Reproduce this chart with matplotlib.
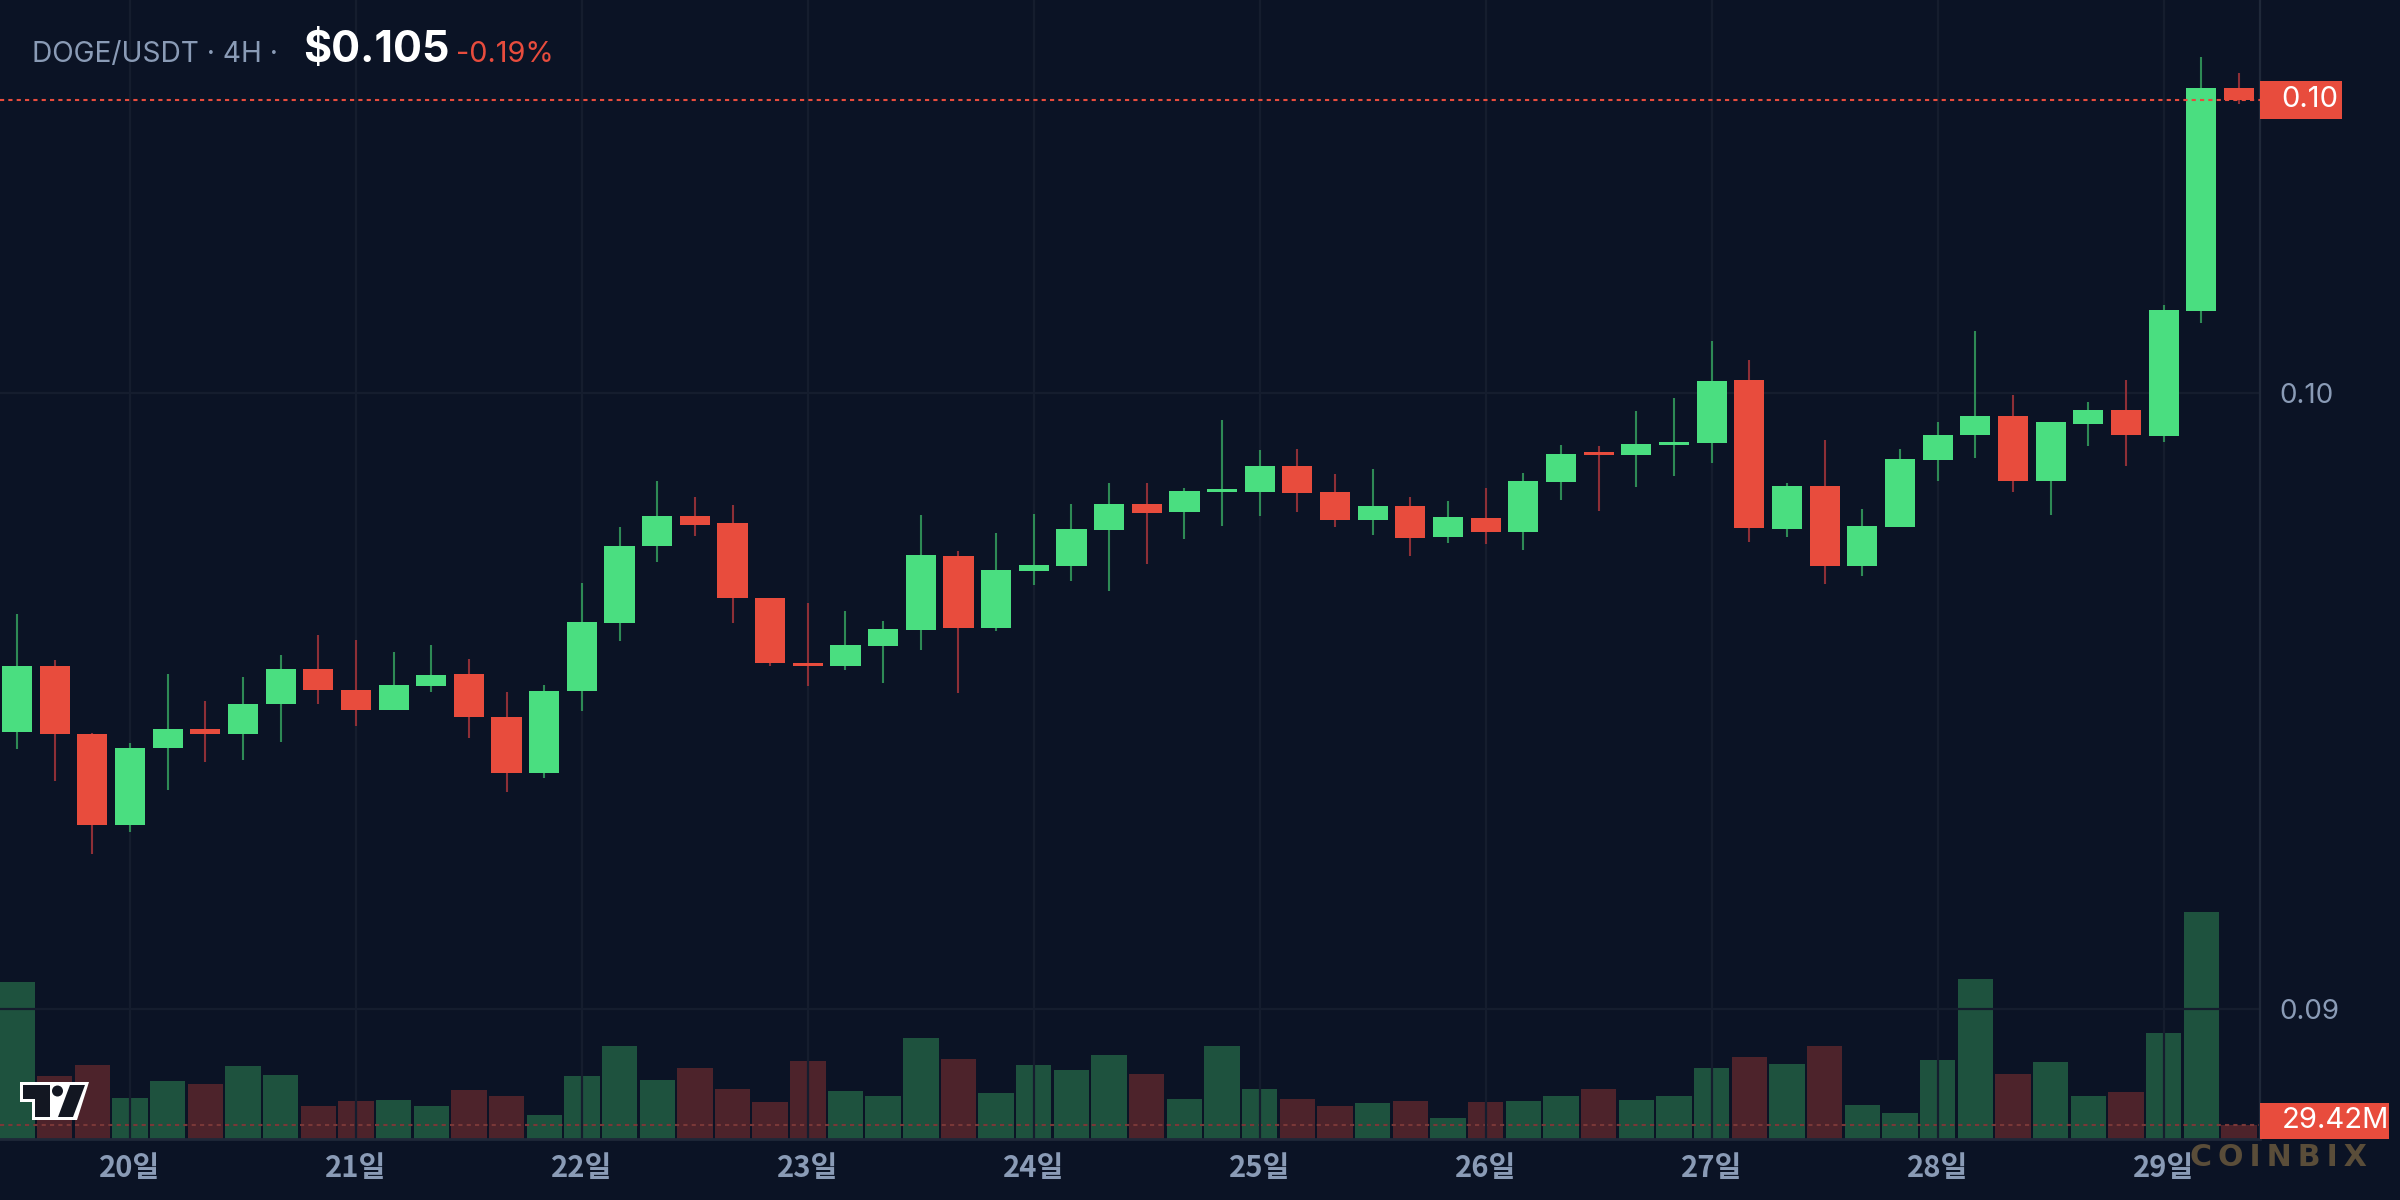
import matplotlib
matplotlib.use('Agg')
import matplotlib.pyplot as plt
import numpy as np
from matplotlib.patches import Rectangle, Polygon, Circle

# ---------------- data (DOGE/USDT, 4H candles) ----------------
opens = [0.09450, 0.09557, 0.09446, 0.09299, 0.09424, 0.09455, 0.09446, 0.09495, 0.09552, 0.09518,
         0.09485, 0.09524, 0.09544, 0.09474, 0.09383, 0.09516, 0.09627, 0.09752, 0.09800, 0.09789,
         0.09667, 0.09562, 0.09557, 0.09589, 0.09615, 0.09735, 0.09619, 0.09711, 0.09719, 0.09778,
         0.09820, 0.09807, 0.09839, 0.09839, 0.09882, 0.09839, 0.09794, 0.09817, 0.09766, 0.09797,
         0.09774, 0.09856, 0.09903, 0.09899, 0.09916, 0.09919, 0.10021, 0.09779, 0.09849, 0.09719,
         0.09782, 0.09891, 0.09932, 0.09963, 0.09857, 0.09950, 0.09972, 0.09930, 0.10133, 0.10495]
highs = [0.09641, 0.09567, 0.09448, 0.09432, 0.09544, 0.09500, 0.09539, 0.09575, 0.09607, 0.09599,
         0.09580, 0.09591, 0.09568, 0.09515, 0.09526, 0.09692, 0.09783, 0.09857, 0.09831, 0.09818,
         0.09667, 0.09659, 0.09646, 0.09630, 0.09802, 0.09744, 0.09773, 0.09804, 0.09820, 0.09854,
         0.09854, 0.09846, 0.09956, 0.09907, 0.09909, 0.09868, 0.09877, 0.09831, 0.09825, 0.09846,
         0.09870, 0.09916, 0.09914, 0.09971, 0.09992, 0.10084, 0.10054, 0.09854, 0.09924, 0.09812,
         0.09909, 0.09953, 0.10101, 0.09997, 0.09953, 0.09985, 0.10021, 0.10143, 0.10545, 0.10519]
lows = [0.09422, 0.09370, 0.09252, 0.09287, 0.09356, 0.09401, 0.09404, 0.09433, 0.09495, 0.09459,
        0.09485, 0.09515, 0.09440, 0.09352, 0.09375, 0.09484, 0.09597, 0.09726, 0.09768, 0.09627,
        0.09557, 0.09524, 0.09550, 0.09529, 0.09583, 0.09513, 0.09614, 0.09688, 0.09695, 0.09679,
        0.09722, 0.09763, 0.09784, 0.09800, 0.09807, 0.09782, 0.09770, 0.09735, 0.09756, 0.09755,
        0.09745, 0.09826, 0.09808, 0.09847, 0.09865, 0.09886, 0.09758, 0.09766, 0.09690, 0.09703,
        0.09782, 0.09857, 0.09894, 0.09839, 0.09802, 0.09914, 0.09881, 0.09920, 0.10114, 0.10469]
closes = [0.09557, 0.09446, 0.09299, 0.09424, 0.09455, 0.09446, 0.09495, 0.09552, 0.09518, 0.09485,
          0.09526, 0.09542, 0.09474, 0.09383, 0.09516, 0.09628, 0.09752, 0.09800, 0.09786, 0.09667,
          0.09562, 0.09557, 0.09591, 0.09617, 0.09737, 0.09619, 0.09713, 0.09721, 0.09779, 0.09820,
          0.09805, 0.09841, 0.09843, 0.09882, 0.09838, 0.09794, 0.09817, 0.09765, 0.09799, 0.09774,
          0.09857, 0.09901, 0.09899, 0.09917, 0.09920, 0.10019, 0.09781, 0.09849, 0.09719, 0.09784,
          0.09893, 0.09932, 0.09963, 0.09857, 0.09953, 0.09972, 0.09932, 0.10135, 0.10495, 0.10476]
volumes_m = [330, 132, 156, 86, 122, 116, 153, 134, 69, 80,
             82, 69, 103, 90, 50, 132, 195, 124, 149, 105,
             78, 164, 101, 90, 212, 168, 97, 156, 145, 177,
             137, 84, 195, 105, 84, 69, 76, 80, 44, 78,
             80, 90, 105, 82, 90, 149, 172, 158, 195, 71,
             55, 166, 336, 137, 162, 90, 99, 223, 477, 29.42]
day_tick_idx = [3, 9, 15, 21, 27, 33, 39, 45, 51, 57]
day_labels = ['20일', '21일', '22일', '23일', '24일', '25일', '26일', '27일', '28일', '29일']
price_ticks = [0.09, 0.10]
price_tick_labels = ['0.09', '0.10']
title_pair = 'DOGE/USDT · 4H ·'
title_price = '$0.105'
title_change = '-0.19%'
watermark = 'COINBIX'

# ---------------- style ----------------
BG = '#0b1325'
GRID = '#151d2e'
SPINE = '#1f2839'
TXT = '#8a9bb6'
GREEN = '#4ade80'
RED = '#e84c3d'
GREEN_WICK = '#2e8a55'
RED_WICK = '#8e2f37'
VOL_GREEN = '#1e523e'
VOL_RED = '#4d232b'
plt.rcParams['font.family'] = ['Inter', 'DejaVu Sans']

W, H = 2400, 1200
plot_right, plot_bottom = 2260, 1139

fig = plt.figure(figsize=(12, 6), dpi=200, facecolor=BG)
rect = [0, 1 - plot_bottom / H, plot_right / W, plot_bottom / H]
ax_vol = fig.add_axes(rect)
ax = fig.add_axes(rect, sharex=ax_vol)
ax_vol.set_facecolor(BG)
ax.patch.set_visible(False)

o = np.array(opens); h = np.array(highs); l = np.array(lows); c = np.array(closes)
v = np.array(volumes_m)
x = np.arange(len(o))
up = c >= o

# volume
ax_vol.bar(x, v, width=0.94, color=np.where(up, VOL_GREEN, VOL_RED), zorder=2)
ax_vol.set_ylim(0, 2393.5)
ax_vol.axhline(v[-1], color='#7a3838', lw=0.75, dashes=(2, 2), zorder=3)
ax_vol.set_yticks([])
ax_vol.tick_params(axis='x', length=0, labelbottom=False)
for s in ax_vol.spines.values():
    s.set_visible(False)

# candles
ax.vlines(x, l, h, colors=np.where(up, GREEN_WICK, RED_WICK), lw=0.75, zorder=3)
minh = 0.00005
ax.bar(x, np.maximum(np.abs(c - o), minh), bottom=np.minimum(o, c), width=0.8,
       color=np.where(up, GREEN, RED), zorder=4)
ax.set_xlim(-0.451, 59.56)
ax.set_ylim(0.08789, 0.10638)
ax.axhline(c[-1], color=RED, lw=0.75, dashes=(2, 2), zorder=5)

ax.set_xticks(day_tick_idx)
ax.set_xticklabels(day_labels, family=['Noto Sans CJK KR', 'DejaVu Sans'],
                   fontweight='bold', fontsize=10.5, color=TXT)
ax.set_yticks(price_ticks)
ax.set_yticklabels(price_tick_labels, fontsize=10, color=TXT)
ax.yaxis.tick_right()
ax.tick_params(axis='x', length=0, pad=5.0)
ax.tick_params(axis='y', length=0, pad=7)
ax.grid(True, color=GRID, lw=0.8, zorder=0)
ax.set_axisbelow(True)
for k in ['top', 'left']:
    ax.spines[k].set_visible(False)
ax.spines['right'].set_color(SPINE)
ax.spines['right'].set_linewidth(0.8)
ax.spines['bottom'].set_color(SPINE)
ax.spines['bottom'].set_linewidth(1.0)

# overlay in pixel coordinates
ov = fig.add_axes([0, 0, 1, 1], zorder=10)
ov.set_xlim(0, W); ov.set_ylim(H, 0); ov.axis('off')
ov.patch.set_visible(False)

ov.text(32, 62, title_pair, color=TXT, fontsize=10.1, va='baseline', ha='left')
ov.text(303, 62, title_price, color='white', fontsize=15.5, fontweight='bold', va='baseline', ha='left')
ov.text(456, 62, title_change, color=RED, fontsize=10.4, va='baseline', ha='left')

# current price label
ypix = H - ax.transData.transform((0, c[-1]))[1]
ov.add_patch(Rectangle((plot_right, ypix - 19), 82, 38, facecolor=RED, edgecolor='none'))
ov.text(plot_right + 21, ypix, f'{c[-1]:.2f}', color='white', fontsize=10.5, va='center', ha='left')

# volume label
yv = H - ax_vol.transData.transform((0, v[-1]))[1]
ov.add_patch(Rectangle((plot_right, yv - 22), 129, 36, facecolor=RED, edgecolor='none'))
ov.text(plot_right + 22, yv - 4, f'{v[-1]:.2f}M', color='white', fontsize=10.5, va='center', ha='left')

# TV logo
ov.add_patch(Polygon([(20, 1082), (89, 1082), (77, 1120), (32, 1120), (32, 1102), (20, 1102)],
                     closed=True, facecolor='white', edgecolor='none'))
ov.add_patch(Polygon([(23, 1085), (50, 1085), (50, 1117), (35, 1117), (35, 1099), (23, 1099)],
                     closed=True, facecolor='#131722', edgecolor='none'))
ov.add_patch(Circle((57.5, 1091), 5.5, facecolor='#131722', edgecolor='none'))
ov.add_patch(Polygon([(70, 1085), (85, 1085), (73, 1117), (58, 1117)],
                     closed=True, facecolor='#131722', edgecolor='none'))

# watermark (letter-spaced)
ov.text(2278, 1157, '\u2009'.join(watermark), color='#5a4d39', fontsize=10.8, fontweight='bold',
        family='DejaVu Sans', va='center', ha='center')

fig.savefig('out.png', dpi=200, facecolor=BG)
